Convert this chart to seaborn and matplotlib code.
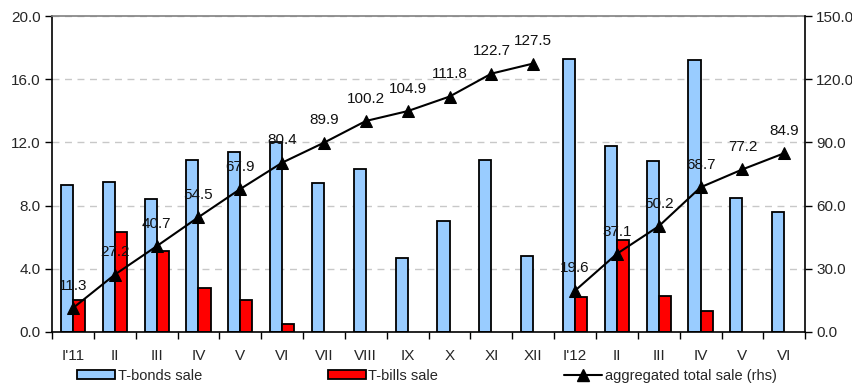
import numpy as np
import pandas as pd
import matplotlib
matplotlib.use("Agg")
import matplotlib.pyplot as plt
import seaborn as sns
from matplotlib.patches import Patch
from matplotlib.lines import Line2D

months = ["I'11", "II", "III", "IV", "V", "VI", "VII", "VIII", "IX", "X", "XI", "XII",
          "I'12", "II", "III", "IV", "V", "VI"]
tbonds = [9.3, 9.5, 8.4, 10.9, 11.4, 12.0, 9.4, 10.3, 4.7, 7.0, 10.9, 4.8,
          17.3, 11.8, 10.8, 17.2, 8.5, 7.6]
tbills = [2.0, 6.3, 5.1, 2.8, 2.0, 0.5, np.nan, np.nan, np.nan, np.nan, np.nan, np.nan,
          2.2, 5.8, 2.3, 1.3, np.nan, np.nan]
total_2011 = [11.3, 27.2, 40.7, 54.5, 67.9, 80.4, 89.9, 100.2, 104.9, 111.8, 122.7, 127.5]
total_2012 = [19.6, 37.1, 50.2, 68.7, 77.2, 84.9]

sns.set_theme(style="white")
plt.rcParams["font.family"] = ["Liberation Sans", "DejaVu Sans"]

n = len(months)
slots = [f"{i}" for i in range(n)]
bars = pd.DataFrame({
    "slot": slots * 2,
    "value": tbonds + tbills,
    "series": ["T-bonds sale"] * n + ["T-bills sale"] * n,
})
line = pd.DataFrame({
    "pos": list(range(n)),
    "total": total_2011 + total_2012,
    "year": ["2011"] * len(total_2011) + ["2012"] * len(total_2012),
})

blue, red = "#99CCFF", "#FF0000"
fs = 11

fig = plt.figure(figsize=(8.53, 3.85), dpi=100)
ax = fig.add_axes([0.061, 0.138, 0.883, 0.82])

sns.barplot(data=bars, x="slot", y="value", hue="series", order=slots,
            palette=[blue, red], width=0.58, dodge=True, edgecolor="black",
            linewidth=1.3, ax=ax, legend=False, saturation=1)

ax.set_ylim(0, 20)
ax.set_xlim(-0.5, n - 0.5)
ax.set_yticks(np.arange(0, 20.1, 4))
ax.set_yticklabels([f"{v:.1f}" for v in np.arange(0, 20.1, 4)], fontsize=fs)
ax.yaxis.grid(True, linestyle=(0, (5, 4)), color="#C8C8C8", linewidth=1)
ax.set_axisbelow(True)
ax.set_xticks(range(n))
ax.set_xticklabels(months, fontsize=fs)
ax.set_xticks(np.arange(-0.5, n, 1), minor=True)
ax.tick_params(axis="x", which="major", length=0, pad=12)
ax.tick_params(axis="x", which="minor", length=5, width=1, color="black", direction="out", bottom=True)
ax.tick_params(axis="y", length=5, width=1, color="black", direction="out", left=True, pad=3)
ax.set_xlabel("")
ax.set_ylabel("")
for side in ["left", "bottom"]:
    ax.spines[side].set_color("black")
    ax.spines[side].set_linewidth(1.2)
ax.spines["top"].set_color("#808080")
ax.spines["top"].set_linewidth(1.2)
ax.spines["right"].set_visible(False)

ax2 = ax.twinx()
sns.lineplot(data=line, x="pos", y="total", units="year", estimator=None,
             color="black", marker="^", markersize=9, markeredgecolor="black",
             linewidth=1.5, ax=ax2, legend=False)
ax2.set_ylim(0, 150)
ax2.set_xlim(-0.5, n - 0.5)
ax2.set_yticks(np.arange(0, 150.1, 30))
ax2.set_yticklabels([f"{v:.1f}" for v in np.arange(0, 150.1, 30)], fontsize=fs)
ax2.tick_params(axis="y", length=5, width=1, color="black", direction="out", right=True, pad=3)
ax2.set_xlabel("")
ax2.set_ylabel("")
for side in ["left", "top", "bottom"]:
    ax2.spines[side].set_visible(False)
ax2.spines["right"].set_color("black")
ax2.spines["right"].set_linewidth(1.2)

for x, y in zip(line["pos"], line["total"]):
    ax2.annotate(f"{y:.1f}", (x, y), xytext=(0, 16), textcoords="offset points",
                 ha="center", va="center", fontsize=fs, color="#111111")

handles = [
    Patch(facecolor=blue, edgecolor="black", linewidth=1.3),
    Patch(facecolor=red, edgecolor="black", linewidth=1.3),
    Line2D([], [], color="black", marker="^", markersize=9, linewidth=1.5),
]
fig.legend(handles, ["T-bonds sale", "T-bills sale", "aggregated total sale (rhs)"],
           loc="lower left", bbox_to_anchor=(0.075, -0.028), ncol=3, frameon=False,
           fontsize=10.5, handlelength=2.6, handleheight=0.6, handletextpad=0.2,
           columnspacing=8.6)

fig.savefig("out.png", dpi=100)
